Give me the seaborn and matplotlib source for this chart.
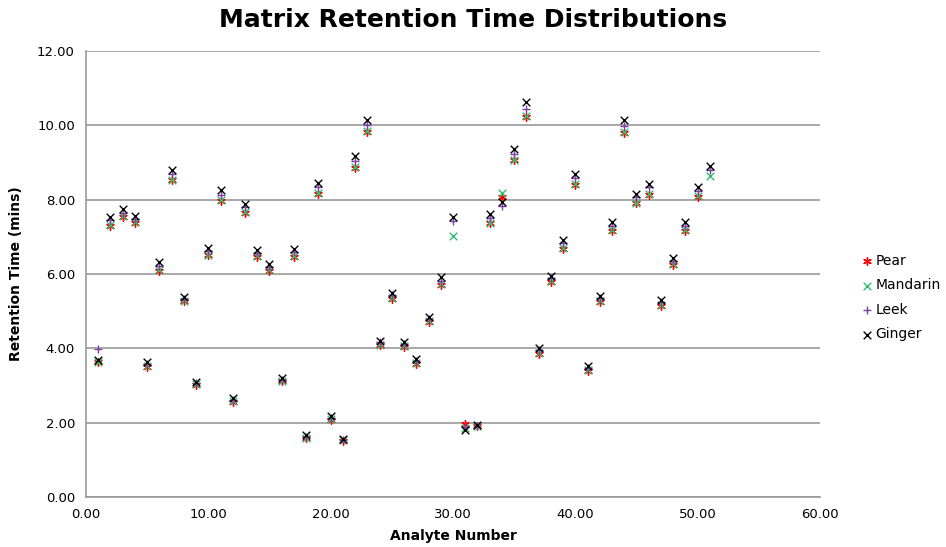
import numpy as np
import pandas as pd
import seaborn as sns
import matplotlib
matplotlib.use("Agg")
import matplotlib.pyplot as plt

analyte = list(range(1, 52))

ginger = [3.69, 7.54, 7.75, 7.56, 3.64, 6.33, 8.80, 5.39, 3.10, 6.70,
          8.25, 2.67, 7.88, 6.65, 6.27, 3.19, 6.66, 1.66, 8.45, 2.17,
          1.55, 9.17, 10.15, 4.21, 5.50, 4.18, 3.70, 4.85, 5.92, 7.52,
          1.80, 1.93, 7.62, 7.95, 9.37, 10.62, 4.02, 5.95, 6.92, 8.70,
          3.52, 5.42, 7.40, 10.14, 8.15, 8.41, 5.30, 6.42, 7.39, 8.33,
          8.90]
leek = [3.99, 7.46, 7.65, 7.47, 3.58, 6.22, 8.69, 5.32, 3.07, 6.62,
        8.13, 2.62, 7.80, 6.57, 6.18, 3.16, 6.59, 1.62, 8.33, 2.13,
        1.54, 9.03, 10.00, 4.16, 5.44, 4.11, 3.65, 4.79, 5.82, 7.42,
        1.88, 1.92, 7.50, 7.84, 9.22, 10.44, 3.96, 5.88, 6.83, 8.57,
        3.47, 5.35, 7.30, 9.97, 8.07, 8.33, 5.24, 6.35, 7.29, 8.24,
        8.79]
mandarin = [3.64, 7.31, 7.56, 7.39, 3.53, 6.10, 8.54, 5.28, 3.04, 6.52,
            7.99, 2.58, 7.66, 6.48, 6.10, 3.13, 6.48, 1.60, 8.18, 2.09,
            1.53, 8.88, 9.84, 4.10, 5.36, 4.05, 3.61, 4.73, 5.72, 7.03,
            1.86, 1.91, 7.38, 8.17, 9.08, 10.25, 3.88, 5.80, 6.70, 8.42,
            3.41, 5.27, 7.19, 9.82, 7.92, 8.14, 5.17, 6.26, 7.18, 8.10,
            8.64]
pear = [3.63, 7.28, 7.54, 7.37, 3.51, 6.07, 8.52, 5.26, 3.02, 6.50,
        7.97, 2.56, 7.64, 6.46, 6.08, 3.11, 6.46, 1.58, 8.16, 2.07,
        1.52, 8.86, 9.82, 4.08, 5.34, 4.03, 3.59, 4.71, 5.70, np.nan,
        1.97, 1.90, 7.36, 8.07, 9.06, 10.23, 3.86, 5.78, 6.68, 8.40,
        3.39, 5.25, 7.17, 9.80, 7.90, 8.12, 5.15, 6.24, 7.16, 8.08,
        np.nan]

series = ["Pear", "Mandarin", "Leek", "Ginger"]
values = [pear, mandarin, leek, ginger]
colors = ["#FF0000", "#2EBF6E", "#7E3FA8", "#000000"]
markers = [(6, 2, 0), "x", "+", "x"]

sns.set_style("white")
plt.rcParams["font.family"] = ["DejaVu Sans"]
plt.rcParams["text.color"] = "black"
plt.rcParams["axes.labelcolor"] = "black"
plt.rcParams["xtick.color"] = "black"
plt.rcParams["ytick.color"] = "black"

fig = plt.figure(figsize=(9.46, 5.47), dpi=100)
ax = fig.add_axes([0.0909, 0.0914, 0.7759, 0.8154])

for name, vals, col, mk in zip(series, values, colors, markers):
    df = pd.DataFrame({"Analyte Number": analyte, "Retention Time (mins)": vals})
    sns.scatterplot(data=df, x="Analyte Number", y="Retention Time (mins)",
                    marker=mk, color=col, s=30, linewidth=1.0, label=name, ax=ax)

ax.set_xlim(0, 60)
ax.set_ylim(0, 12)
ax.set_xticks(np.arange(0, 61, 10))
ax.set_yticks(np.arange(0, 13, 2))
ax.set_xticklabels([f"{v:.2f}" for v in np.arange(0, 61, 10)])
ax.set_yticklabels([f"{v:.2f}" for v in np.arange(0, 13, 2)])
ax.tick_params(labelsize=9.5, length=0, pad=8)
ax.grid(axis="y", color="#999999", linewidth=1.2)
ax.set_axisbelow(True)
for side in ["top", "right"]:
    ax.spines[side].set_visible(False)
for side in ["left", "bottom"]:
    ax.spines[side].set_color("#999999")
    ax.spines[side].set_linewidth(1.2)

ax.set_xlabel("Analyte Number", fontsize=10, fontweight="bold", labelpad=6)
ax.set_ylabel("Retention Time (mins)", fontsize=10, fontweight="bold", labelpad=10)
fig.suptitle("Matrix Retention Time Distributions", fontsize=18, fontweight="bold",
             x=0.5, y=0.985)

ax.legend(loc="upper left", bbox_to_anchor=(1.055, 0.545), frameon=False,
          fontsize=10, handletextpad=0.1, handlelength=1.0, labelspacing=0.75,
          borderaxespad=0, borderpad=0)

fig.savefig("out.png", dpi=100)
